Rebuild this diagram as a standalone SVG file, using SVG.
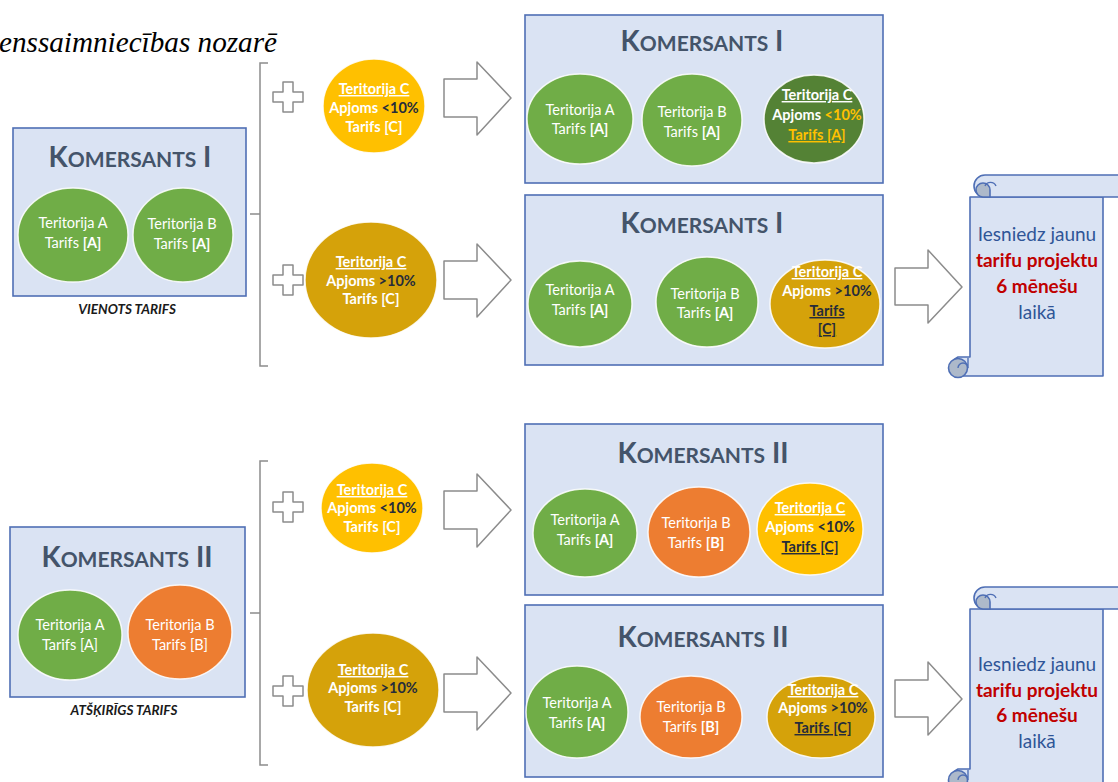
<svg xmlns="http://www.w3.org/2000/svg" width="1118" height="782" viewBox="0 0 1118 782">
<defs>
<style>
.box{fill:#DAE3F3;stroke:#4F6FB5;stroke-width:1.6}
.title{font-family:Lato,"Open Sans",sans-serif;font-weight:700;fill:#44546A;text-anchor:middle}
.ct{font-family:Lato,"Open Sans",sans-serif;font-size:14.5px;fill:#fff;text-anchor:middle}
.b{font-weight:700}
.u{text-decoration:underline}
.dk{fill:#262C3A}
.yl{fill:#FFC000}
.cir{stroke:#fff;stroke-width:1.5;stroke-opacity:0.85}
.green{fill:#70AD47}
.dgreen{fill:#548235}
.orange{fill:#ED7D31}
.yellow{fill:#FFC000}
.gold{fill:#D5A20A}
.arrow{fill:#fff;stroke:#8C8C8C;stroke-width:1.5;stroke-linejoin:round}
.brace{fill:none;stroke:#8C8C8C;stroke-width:1.5}
.lab{font-family:Lato,"Open Sans",sans-serif;font-size:13.5px;font-weight:700;font-style:italic;fill:#1a1a1a;text-anchor:middle}
.scroll{fill:#DAE3F3;stroke:#4F6FB5;stroke-width:1.6;stroke-linejoin:round}
.curl{fill:#ADB9CA;stroke:#4F6FB5;stroke-width:1.6}
.st{font-family:Lato,"Open Sans",sans-serif;font-size:19px;text-anchor:middle}
.blue{fill:#2F5597}
.red{fill:#C00000;font-weight:700}
</style>
<g id="scrollShape">
<path class="scroll" d="M970 197 H1103 V376 H958 A10.5 10.5 0 0 1 958 357 H970 Z"/>
<circle class="curl" cx="958" cy="368" r="9.5"/>
<path d="M958 368 A5 5 0 0 1 968 368 V358" fill="none" stroke="#4F6FB5" stroke-width="1.4"/>
<path class="scroll" d="M985 175 H1130 V197 H985 A11 11 0 0 1 985 175 Z"/>
<path class="curl" d="M976 190 A7 7 0 0 1 990 190 V197 H983 A7 7 0 0 1 976 190 Z"/>
<path d="M996 186 A6 6 0 0 0 985 186" fill="none" stroke="#4F6FB5" stroke-width="1.4"/>
</g>
</defs>

<text x="-1" y="52" font-family="Liberation Serif,serif" font-style="italic" font-size="29" fill="#000" textLength="278" lengthAdjust="spacingAndGlyphs">enssaimniecības nozarē</text>

<g id="connectors">
<path class="brace" d="M268 63 H260 V366 H268 M250 214 H260"/>
<path class="brace" d="M268 461 H260 V765 H268 M250 613 H260"/>
<path class="arrow" d="M273 92 H283 V82 H293 V92 H303 V102 H293 V112 H283 V102 H273 Z"/>
<path class="arrow" d="M273 275 H283 V265 H293 V275 H303 V285 H293 V295 H283 V285 H273 Z"/>
<path class="arrow" d="M273 502 H283 V492 H293 V502 H303 V512 H293 V522 H283 V512 H273 Z"/>
<path class="arrow" d="M273 686 H283 V676 H293 V686 H303 V696 H293 V706 H283 V696 H273 Z"/>
<path class="arrow" d="M444 79 H477 V62 L511 98 L477 135 V117 H444 Z"/>
<path class="arrow" d="M444 261 H477 V244 L511 280 L477 317 V299 H444 Z"/>
<path class="arrow" d="M444 491 H477 V474 L511 510 L477 547 V529 H444 Z"/>
<path class="arrow" d="M444 674 H477 V657 L511 693 L477 730 V712 H444 Z"/>
<path class="arrow" d="M895 268 H928 V250 L962 287 L928 323 V305 H895 Z"/>
<path class="arrow" d="M895 680 H928 V662 L962 699 L928 735 V717 H895 Z"/>
</g>

<g id="k1-left">
<rect class="box" x="13" y="128" width="233" height="168"/>
<text class="title" x="130" y="167"><tspan font-size="28">K</tspan><tspan font-size="21">OMERSANTS</tspan><tspan font-size="28"> I</tspan></text>
<ellipse class="cir green" cx="73" cy="235" rx="55" ry="47"/>
<ellipse class="cir green" cx="183" cy="235" rx="50" ry="47"/>
<text class="ct" x="73" y="228">Teritorija A</text>
<text class="ct" x="73" y="248">Tarifs <tspan class="b">[A]</tspan></text>
<text class="ct" x="182" y="229">Teritorija B</text>
<text class="ct" x="182" y="249">Tarifs  <tspan class="b">[A]</tspan></text>
<text class="lab" x="127" y="314">VIENOTS TARIFS</text>
</g>

<g id="c-top-small">
<ellipse class="cir yellow" cx="374" cy="106" rx="51" ry="47"/>
<text class="ct b u" x="374" y="94">Teritorija C</text>
<text class="ct b" x="374" y="113">Apjoms <tspan class="dk">&lt;10%</tspan></text>
<text class="ct b" x="374" y="132">Tarifs [C]</text>
</g>
<g id="c-top-large">
<ellipse class="cir gold" cx="371" cy="280" rx="66" ry="58"/>
<text class="ct b u" x="371" y="267">Teritorija C</text>
<text class="ct b" x="371" y="286">Apjoms <tspan class="dk">&gt;10%</tspan></text>
<text class="ct b" x="371" y="304">Tarifs [C]</text>
</g>

<g id="k1-r1">
<rect class="box" x="525" y="15" width="358" height="168"/>
<text class="title" x="702" y="51"><tspan font-size="28">K</tspan><tspan font-size="21">OMERSANTS</tspan><tspan font-size="28"> I</tspan></text>
<ellipse class="cir green" cx="580" cy="119" rx="53" ry="45"/>
<ellipse class="cir green" cx="692" cy="120" rx="50" ry="46"/>
<ellipse class="cir dgreen" cx="814" cy="119" rx="50" ry="44"/>
<text class="ct" x="580" y="115">Teritorija A</text>
<text class="ct" x="580" y="134">Tarifs <tspan class="b">[A]</tspan></text>
<text class="ct" x="692" y="117">Teritorija B</text>
<text class="ct" x="692" y="137">Tarifs  <tspan class="b">[A]</tspan></text>
<text class="ct b u" x="817" y="100">Teritorija C</text>
<text class="ct b" x="817" y="120">Apjoms <tspan class="yl">&lt;10%</tspan></text>
<text class="ct b u yl" x="817" y="140">Tarifs [A]</text>
</g>

<g id="k1-r2">
<rect class="box" x="525" y="195" width="358" height="170"/>
<text class="title" x="702" y="233"><tspan font-size="28">K</tspan><tspan font-size="21">OMERSANTS</tspan><tspan font-size="28"> I</tspan></text>
<ellipse class="cir green" cx="580" cy="304" rx="52" ry="43"/>
<ellipse class="cir green" cx="707" cy="302" rx="51" ry="45"/>
<ellipse class="cir gold" cx="825" cy="304" rx="55" ry="44"/>
<text class="ct" x="580" y="295">Teritorija A</text>
<text class="ct" x="580" y="315">Tarifs <tspan class="b">[A]</tspan></text>
<text class="ct" x="705" y="299">Teritorija B</text>
<text class="ct" x="705" y="318">Tarifs  <tspan class="b">[A]</tspan></text>
<text class="ct b u" x="827" y="277">Teritorija C</text>
<text class="ct b" x="827" y="296">Apjoms <tspan class="dk">&gt;10%</tspan></text>
<text class="ct b u dk" x="827" y="316">Tarifs</text>
<text class="ct b u dk" x="827" y="334">[C]</text>
</g>

<g id="scroll-1">
<use href="#scrollShape"/>
<text class="st blue" x="1037" y="241">Iesniedz jaunu</text>
<text class="st red" x="1037" y="267">tarifu projektu</text>
<text class="st red" x="1037" y="293">6 mēnešu</text>
<text class="st blue" x="1037" y="319">laikā</text>
</g>

<g id="k2-left">
<rect class="box" x="10" y="527" width="235" height="170"/>
<text class="title" x="127" y="567"><tspan font-size="28">K</tspan><tspan font-size="21">OMERSANTS</tspan><tspan font-size="28"> II</tspan></text>
<ellipse class="cir green" cx="70" cy="635" rx="52" ry="45"/>
<ellipse class="cir orange" cx="180" cy="632" rx="52" ry="47"/>
<text class="ct" x="70" y="630">Teritorija A</text>
<text class="ct" x="70" y="650">Tarifs [A]</text>
<text class="ct" x="180" y="630">Teritorija B</text>
<text class="ct" x="180" y="650">Tarifs  [B]</text>
<text class="lab" x="124" y="715">ATŠĶIRĪGS TARIFS</text>
</g>

<g id="c-bot-small">
<ellipse class="cir yellow" cx="372" cy="508" rx="51" ry="45"/>
<text class="ct b u" x="372" y="495">Teritorija C</text>
<text class="ct b" x="372" y="513">Apjoms <tspan class="dk">&lt;10%</tspan></text>
<text class="ct b" x="372" y="532">Tarifs [C]</text>
</g>
<g id="c-bot-large">
<ellipse class="cir gold" cx="373" cy="690" rx="66" ry="57"/>
<text class="ct b u" x="373" y="675">Teritorija C</text>
<text class="ct b" x="373" y="693">Apjoms <tspan class="dk">&gt;10%</tspan></text>
<text class="ct b" x="373" y="712">Tarifs [C]</text>
</g>

<g id="k2-r1">
<rect class="box" x="525" y="424" width="358" height="171"/>
<text class="title" x="703" y="463"><tspan font-size="28">K</tspan><tspan font-size="21">OMERSANTS</tspan><tspan font-size="28"> II</tspan></text>
<ellipse class="cir green" cx="585" cy="533" rx="52" ry="44"/>
<ellipse class="cir orange" cx="699" cy="532" rx="51" ry="45"/>
<ellipse class="cir yellow" cx="810" cy="529" rx="53" ry="46"/>
<text class="ct" x="585" y="525">Teritorija A</text>
<text class="ct" x="585" y="545">Tarifs <tspan class="b">[A]</tspan></text>
<text class="ct" x="696" y="528">Teritorija B</text>
<text class="ct" x="696" y="548">Tarifs  <tspan class="b">[B]</tspan></text>
<text class="ct b u" x="810" y="513">Teritorija C</text>
<text class="ct b" x="810" y="532">Apjoms <tspan class="dk">&lt;10%</tspan></text>
<text class="ct b u dk" x="810" y="552">Tarifs [C]</text>
</g>

<g id="k2-r2">
<rect class="box" x="525" y="605" width="358" height="172"/>
<text class="title" x="703" y="647"><tspan font-size="28">K</tspan><tspan font-size="21">OMERSANTS</tspan><tspan font-size="28"> II</tspan></text>
<ellipse class="cir green" cx="577" cy="712" rx="51" ry="46"/>
<ellipse class="cir orange" cx="691" cy="717" rx="51" ry="41"/>
<ellipse class="cir gold" cx="821" cy="717" rx="54" ry="41"/>
<text class="ct" x="577" y="708">Teritorija A</text>
<text class="ct" x="577" y="728">Tarifs <tspan class="b">[A]</tspan></text>
<text class="ct" x="691" y="712">Teritorija B</text>
<text class="ct" x="691" y="732">Tarifs  <tspan class="b">[B]</tspan></text>
<text class="ct b u" x="823" y="695">Teritorija C</text>
<text class="ct b" x="823" y="713">Apjoms <tspan class="dk">&gt;10%</tspan></text>
<text class="ct b u dk" x="823" y="733">Tarifs [C]</text>
</g>

<g id="scroll-2">
<use href="#scrollShape" transform="translate(0,412)"/>
<text class="st blue" x="1037" y="671">Iesniedz jaunu</text>
<text class="st red" x="1037" y="697">tarifu projektu</text>
<text class="st red" x="1037" y="722">6 mēnešu</text>
<text class="st blue" x="1037" y="748">laikā</text>
</g>
</svg>
